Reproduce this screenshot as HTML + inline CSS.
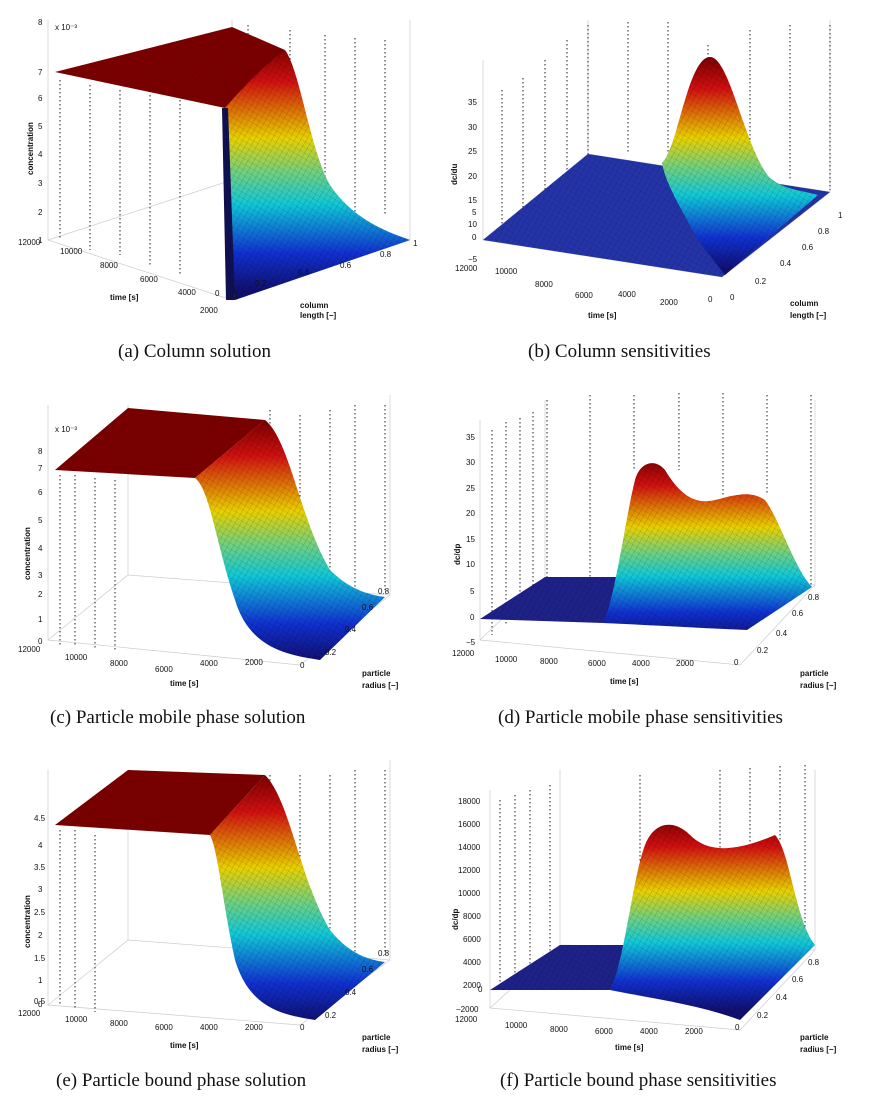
<!DOCTYPE html>
<html><head><meta charset="utf-8"><style>
body{margin:0;background:#fff;width:872px;height:1100px;overflow:hidden}
svg{display:block}
.t{font-family:"Liberation Sans",sans-serif;font-size:8px;fill:#111}
.b{font-family:"Liberation Sans",sans-serif;font-size:8px;font-weight:bold;fill:#111}
.c{font-family:"Liberation Serif",serif;font-size:19px;fill:#111}
.g{stroke:#ccc;stroke-width:0.7;fill:none}
.d{stroke:#222;stroke-width:1;stroke-dasharray:1.5 2.5;fill:none}
</style></head><body>
<svg width="872" height="1100" viewBox="0 0 872 1100">
<defs>
<linearGradient id="jv" x1="0" y1="0" x2="0" y2="1">
<stop offset="0" stop-color="#7a0000"/><stop offset="0.15" stop-color="#d01010"/>
<stop offset="0.38" stop-color="#e8d000"/><stop offset="0.52" stop-color="#70d080"/>
<stop offset="0.65" stop-color="#10c8d8"/><stop offset="0.85" stop-color="#1030d0"/>
<stop offset="1" stop-color="#101070"/></linearGradient>
<linearGradient id="ga" href="#jv" gradientUnits="userSpaceOnUse" x1="0" y1="45" x2="0" y2="290"/>
<linearGradient id="gb" href="#jv" gradientUnits="userSpaceOnUse" x1="0" y1="57" x2="0" y2="270"/>
<linearGradient id="gc" href="#jv" gradientUnits="userSpaceOnUse" x1="0" y1="420" x2="0" y2="660"/>
<linearGradient id="gd" href="#jv" gradientUnits="userSpaceOnUse" x1="0" y1="458" x2="0" y2="640"/>
<linearGradient id="ge" href="#jv" gradientUnits="userSpaceOnUse" x1="0" y1="775" x2="0" y2="1020"/>
<linearGradient id="gf" href="#jv" gradientUnits="userSpaceOnUse" x1="0" y1="818" x2="0" y2="1010"/>
<pattern id="mesh" width="5" height="5" patternUnits="userSpaceOnUse" patternTransform="rotate(30)">
<line x1="0" y1="0" x2="0" y2="5" stroke="#000" stroke-width="0.6" stroke-opacity="0.35"/>
<line x1="0" y1="0" x2="5" y2="0" stroke="#000" stroke-width="0.6" stroke-opacity="0.25"/></pattern>
</defs>

<!-- ===== (a) ===== -->
<g>
<path class="g" d="M48,20 L48,240 L232,300 L410,240 L410,20 M48,240 L232,180 L410,240 M232,20 L232,180"/>
<path class="d" d="M248,25V250 M290,30V235 M325,35V230 M355,38V225 M385,40V215 M60,80V240 M90,85V250 M120,90V255 M150,95V265 M180,100V275"/>
<polygon points="55,72 232,27 285,50 225,108" fill="#7a0000"/>
<path d="M225,108 C240,90 270,60 285,50 C300,70 310,150 330,185 C350,215 380,230 410,240 L235,300 C232,250 230,150 225,108Z" fill="url(#ga)"/>
<path d="M225,108 C240,90 270,60 285,50 C300,70 310,150 330,185 C350,215 380,230 410,240 L235,300 C232,250 230,150 225,108Z" fill="url(#mesh)"/>
<polygon points="55,72 232,27 285,50 225,108" fill="url(#mesh)" opacity="0.5"/>
<path d="M222,108 L226,300 L235,300 L228,108Z" fill="#101050"/>
<g class="t"><text x="38" y="25">8</text><text x="38" y="75">7</text><text x="38" y="101">6</text><text x="38" y="129">5</text><text x="38" y="157">4</text><text x="38" y="186">3</text><text x="38" y="215">2</text><text x="38" y="243">1</text>
<text x="55" y="30">x 10⁻³</text>
<text x="18" y="245">12000</text><text x="60" y="254">10000</text><text x="100" y="268">8000</text><text x="140" y="282">6000</text><text x="178" y="295">4000</text><text x="200" y="313">2000</text><text x="215" y="296">0</text>
<text x="233" y="298">0</text><text x="255" y="286">0.2</text><text x="298" y="275">0.4</text><text x="340" y="268">0.6</text><text x="380" y="257">0.8</text><text x="413" y="246">1</text></g>
<text class="b" transform="translate(33,175) rotate(-90)">concentration</text>
<text class="b" x="110" y="300">time [s]</text>
<text class="b" x="300" y="308">column</text><text class="b" x="300" y="318">length [−]</text>
<text class="c" x="118" y="357">(a) Column solution</text>
</g>

<!-- ===== (b) ===== -->
<g>
<path class="g" d="M483,60 L483,240 L722,277 L830,192 L830,20 M483,240 L588,154 L830,192 M588,20 L588,154"/>
<path class="d" d="M502,90V225 M523,78V210 M545,60V195 M567,40V170 M588,25V154 M628,22V154 M668,22V160 M708,45V75 M750,30V175 M790,25V180 M830,25V190"/>
<polygon points="483,240 588,154 830,192 722,277" fill="#2434a8"/>
<polygon points="483,240 588,154 830,192 722,277" fill="url(#mesh)"/>
<path d="M662,163 C678,148 688,57 710,57 C730,57 745,150 770,178 C785,190 800,190 818,195 L725,275 C715,262 705,250 697,238 C682,210 666,185 662,163Z" fill="url(#gb)"/>
<path d="M662,163 C678,148 688,57 710,57 C730,57 745,150 770,178 C785,190 800,190 818,195 L725,275 C715,262 705,250 697,238 C682,210 666,185 662,163Z" fill="url(#mesh)"/>
<g class="t"><text x="468" y="105">35</text><text x="468" y="130">30</text><text x="468" y="154">25</text><text x="468" y="179">20</text><text x="468" y="203">15</text><text x="468" y="227">10</text><text x="472" y="215">5</text><text x="472" y="240">0</text><text x="468" y="262">−5</text>
<text x="455" y="271">12000</text><text x="495" y="274">10000</text><text x="535" y="287">8000</text><text x="575" y="298">6000</text><text x="618" y="297">4000</text><text x="660" y="305">2000</text><text x="708" y="302">0</text>
<text x="730" y="300">0</text><text x="755" y="284">0.2</text><text x="780" y="266">0.4</text><text x="802" y="250">0.6</text><text x="818" y="234">0.8</text><text x="838" y="218">1</text></g>
<text class="b" transform="translate(457,185) rotate(-90)">dc/du</text>
<text class="b" x="588" y="318">time [s]</text>
<text class="b" x="790" y="306">column</text><text class="b" x="790" y="318">length [−]</text>
<text class="c" x="528" y="357">(b) Column sensitivities</text>
</g>

<!-- ===== (c) ===== -->
<g>
<path class="g" d="M48,405 L48,640 L300,665 L390,595 L390,395 M48,640 L128,575 L390,595 M128,405 L128,575"/>
<path class="d" d="M60,475V645 M75,475V645 M95,478V650 M115,480V652 M270,410V620 M300,415V610 M330,410V600 M355,405V595 M385,405V590"/>
<polygon points="55,470 128,408 265,420 195,478" fill="#7a0000"/>
<polygon points="55,470 128,408 265,420 195,478" fill="url(#mesh)" opacity="0.5"/>
<path d="M195,478 L265,420 C290,440 300,520 330,570 C350,590 370,595 385,597 L320,660 C290,655 250,650 235,600 C215,540 210,490 195,478Z" fill="url(#gc)"/>
<path d="M195,478 L265,420 C290,440 300,520 330,570 C350,590 370,595 385,597 L320,660 C290,655 250,650 235,600 C215,540 210,490 195,478Z" fill="url(#mesh)"/>
<g class="t"><text x="38" y="454">8</text><text x="38" y="471">7</text><text x="38" y="495">6</text><text x="38" y="523">5</text><text x="38" y="551">4</text><text x="38" y="578">3</text><text x="38" y="597">2</text><text x="38" y="622">1</text><text x="38" y="644">0</text>
<text x="55" y="432">x 10⁻³</text>
<text x="18" y="652">12000</text><text x="65" y="660">10000</text><text x="110" y="666">8000</text><text x="155" y="672">6000</text><text x="200" y="666">4000</text><text x="245" y="665">2000</text><text x="300" y="668">0</text>
<text x="325" y="655">0.2</text><text x="345" y="632">0.4</text><text x="362" y="610">0.6</text><text x="378" y="594">0.8</text></g>
<text class="b" transform="translate(30,580) rotate(-90)">concentration</text>
<text class="b" x="170" y="686">time [s]</text>
<text class="b" x="362" y="676">particle</text><text class="b" x="362" y="688">radius [−]</text>
<text class="c" x="50" y="723">(c) Particle mobile phase solution</text>
</g>

<!-- ===== (d) ===== -->
<g>
<path class="g" d="M480,420 L480,640 L740,665 L815,585 L815,400 M480,640 L545,578 L815,585 M545,400 L545,578"/>
<path class="d" d="M492,430V635 M506,422V625 M520,418V615 M533,412V605 M547,400V578 M590,395V578 M634,395V470 M679,393V470 M723,393V495 M767,395V495 M811,395V585"/>
<polygon points="480,619 545,577 632,577 603,623" fill="#1e2288"/>
<polygon points="480,619 545,577 632,577 603,623" fill="url(#mesh)"/>
<path d="M603,623 C615,600 625,520 635,480 C640,462 655,458 665,470 C680,495 695,505 715,500 C735,495 750,490 765,500 C780,520 795,570 812,587 L747,630 C700,628 650,625 603,623Z" fill="url(#gd)"/>
<path d="M603,623 C615,600 625,520 635,480 C640,462 655,458 665,470 C680,495 695,505 715,500 C735,495 750,490 765,500 C780,520 795,570 812,587 L747,630 C700,628 650,625 603,623Z" fill="url(#mesh)"/>
<g class="t"><text x="466" y="440">35</text><text x="466" y="465">30</text><text x="466" y="491">25</text><text x="466" y="516">20</text><text x="466" y="542">15</text><text x="466" y="567">10</text><text x="470" y="594">5</text><text x="470" y="620">0</text><text x="466" y="645">−5</text>
<text x="452" y="656">12000</text><text x="495" y="662">10000</text><text x="540" y="664">8000</text><text x="588" y="666">6000</text><text x="632" y="666">4000</text><text x="676" y="666">2000</text><text x="734" y="665">0</text>
<text x="757" y="653">0.2</text><text x="776" y="636">0.4</text><text x="792" y="616">0.6</text><text x="808" y="600">0.8</text></g>
<text class="b" transform="translate(460,565) rotate(-90)">dc/dp</text>
<text class="b" x="610" y="684">time [s]</text>
<text class="b" x="800" y="676">particle</text><text class="b" x="800" y="688">radius [−]</text>
<text class="c" x="498" y="723">(d) Particle mobile phase sensitivities</text>
</g>

<!-- ===== (e) ===== -->
<g>
<path class="g" d="M48,770 L48,1005 L300,1025 L390,960 L390,760 M48,1005 L128,940 L390,960 M128,770 L128,940"/>
<path class="d" d="M60,830V1005 M75,830V1010 M95,835V1012 M270,775V985 M300,775V975 M330,775V965 M355,770V960 M385,770V955"/>
<polygon points="55,825 128,770 265,775 210,835" fill="#7a0000"/>
<polygon points="55,825 128,770 265,775 210,835" fill="url(#mesh)" opacity="0.5"/>
<path d="M210,835 L265,775 C290,800 300,880 330,930 C350,955 370,960 385,962 L315,1020 C285,1015 250,1010 235,960 C222,900 218,850 210,835Z" fill="url(#ge)"/>
<path d="M210,835 L265,775 C290,800 300,880 330,930 C350,955 370,960 385,962 L315,1020 C285,1015 250,1010 235,960 C222,900 218,850 210,835Z" fill="url(#mesh)"/>
<g class="t"><text x="34" y="821">4.5</text><text x="38" y="848">4</text><text x="34" y="870">3.5</text><text x="38" y="892">3</text><text x="34" y="915">2.5</text><text x="38" y="938">2</text><text x="34" y="961">1.5</text><text x="38" y="983">1</text><text x="34" y="1004">0.5</text><text x="38" y="1007">0</text>
<text x="18" y="1016">12000</text><text x="65" y="1022">10000</text><text x="110" y="1026">8000</text><text x="155" y="1030">6000</text><text x="200" y="1030">4000</text><text x="245" y="1030">2000</text><text x="300" y="1030">0</text>
<text x="325" y="1018">0.2</text><text x="345" y="995">0.4</text><text x="362" y="972">0.6</text><text x="378" y="956">0.8</text></g>
<text class="b" transform="translate(30,948) rotate(-90)">concentration</text>
<text class="b" x="170" y="1048">time [s]</text>
<text class="b" x="362" y="1040">particle</text><text class="b" x="362" y="1052">radius [−]</text>
<text class="c" x="56" y="1086">(e) Particle bound phase solution</text>
</g>

<!-- ===== (f) ===== -->
<g>
<path class="g" d="M490,790 L490,1008 L740,1030 L815,950 L815,770 M490,1008 L560,945 L815,950 M560,770 L560,945"/>
<path class="d" d="M500,800V990 M515,795V985 M530,790V980 M550,785V960 M640,775V945 M720,770V860 M750,768V850 M780,766V840 M805,765V930"/>
<polygon points="490,990 560,945 640,945 610,990" fill="#1e2288"/>
<polygon points="490,990 560,945 640,945 610,990" fill="url(#mesh)"/>
<path d="M610,990 C625,960 632,880 645,845 C655,820 675,820 690,835 C710,855 740,850 775,835 C790,850 795,920 815,945 L740,1020 C700,1005 650,998 610,990Z" fill="url(#gf)"/>
<path d="M610,990 C625,960 632,880 645,845 C655,820 675,820 690,835 C710,855 740,850 775,835 C790,850 795,920 815,945 L740,1020 C700,1005 650,998 610,990Z" fill="url(#mesh)"/>
<g class="t"><text x="458" y="804">18000</text><text x="458" y="827">16000</text><text x="458" y="850">14000</text><text x="458" y="873">12000</text><text x="458" y="896">10000</text><text x="463" y="919">8000</text><text x="463" y="942">6000</text><text x="463" y="965">4000</text><text x="463" y="988">2000</text><text x="478" y="992">0</text><text x="456" y="1012">−2000</text>
<text x="455" y="1022">12000</text><text x="505" y="1028">10000</text><text x="550" y="1032">8000</text><text x="595" y="1034">6000</text><text x="640" y="1034">4000</text><text x="685" y="1034">2000</text><text x="735" y="1030">0</text>
<text x="757" y="1018">0.2</text><text x="776" y="1000">0.4</text><text x="792" y="982">0.6</text><text x="808" y="965">0.8</text></g>
<text class="b" transform="translate(458,930) rotate(-90)">dc/dp</text>
<text class="b" x="615" y="1050">time [s]</text>
<text class="b" x="800" y="1040">particle</text><text class="b" x="800" y="1052">radius [−]</text>
<text class="c" x="500" y="1086">(f) Particle bound phase sensitivities</text>
</g>
</svg>
</body></html>
